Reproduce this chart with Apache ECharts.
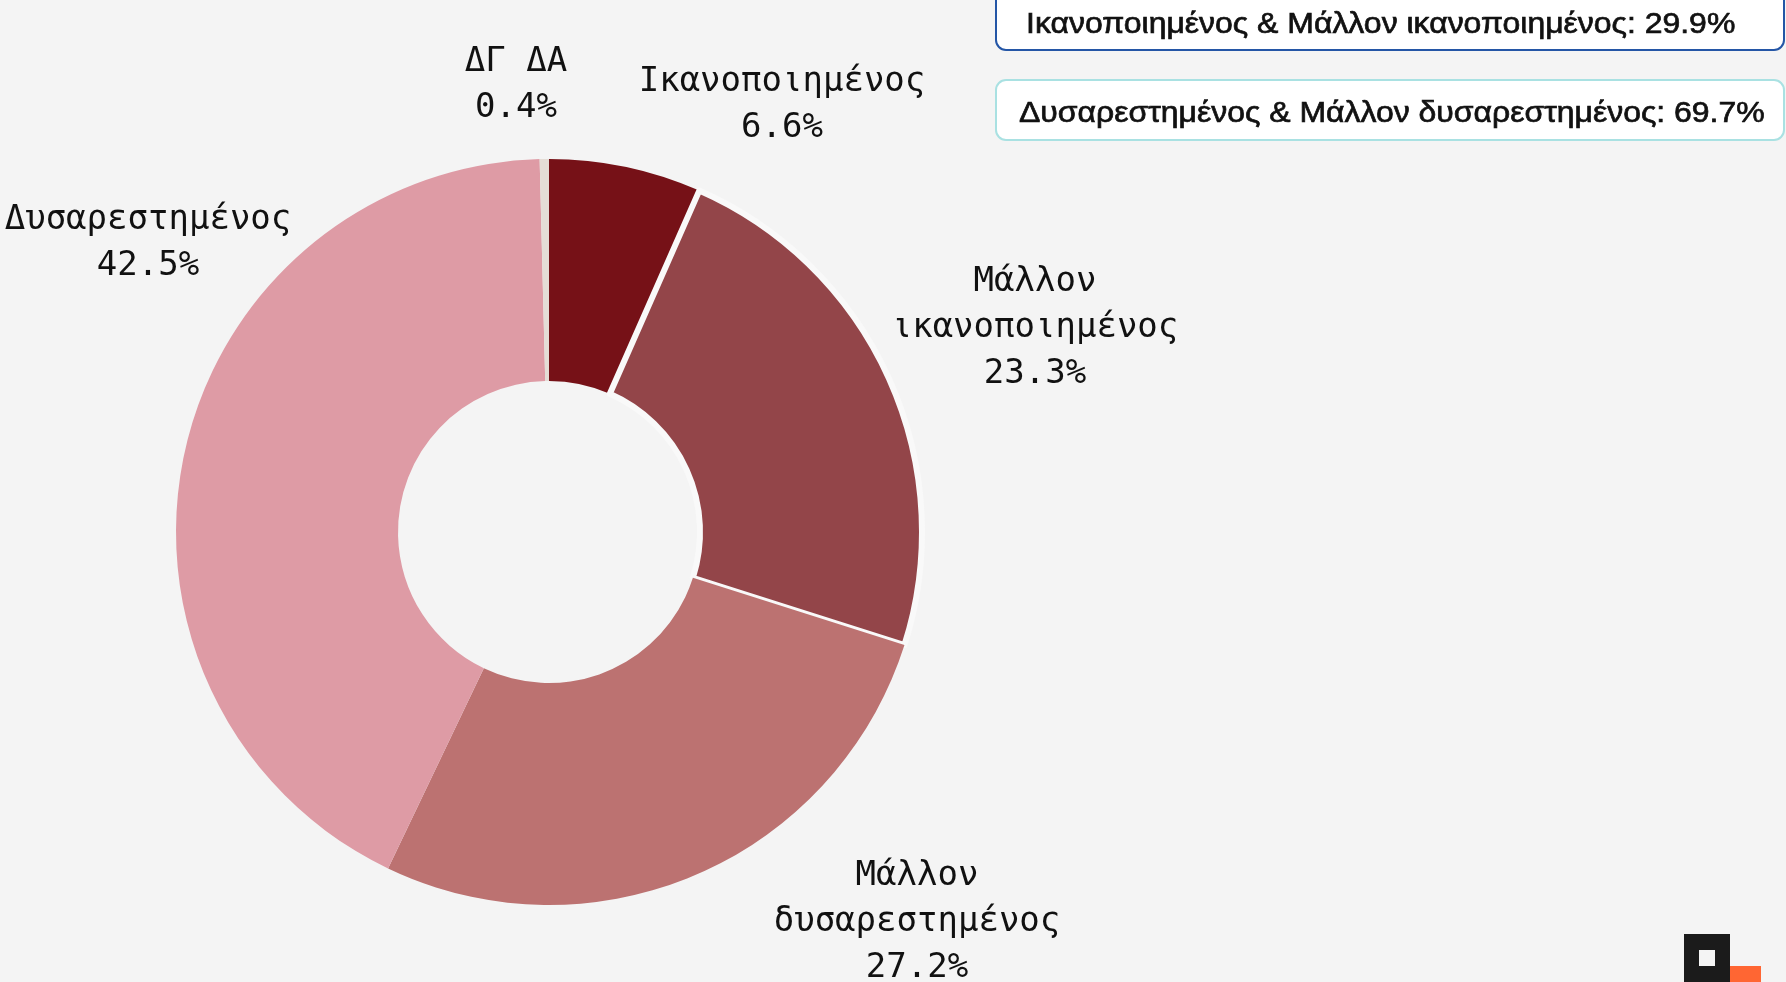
<!doctype html>
<html lang="el">
<head>
    <meta charset="UTF-8">
    <title>Ικανοποίηση</title>
    <script src="https://cdn.jsdelivr.net/npm/echarts@6/dist/echarts.min.js"></script>
    <style>
        html, body { margin: 0; padding: 0; background: #f4f4f4; }
        #main { width: 1786px; height: 982px; }
    </style>
</head>
<body>
<div id="main"></div>
<script type="text/javascript">
    // δεδομένα
    var categories = ['Ικανοποιημένος', 'Μάλλον ικανοποιημένος', 'Μάλλον δυσαρεστημένος', 'Δυσαρεστημένος', 'ΔΓ ΔΑ'];
    var values = [6.6, 23.3, 27.2, 42.5, 0.4];
    var summaryLabels = ['Ικανοποιημένος & Μάλλον ικανοποιημένος', 'Δυσαρεστημένος & Μάλλον δυσαρεστημένος'];
    var summaryValues = [29.9, 69.7];

    var colors = ['#761117', '#934549', '#bc7271', '#de9ba5', '#e4ddd6'];

    // θέση κέντρου πίτας και μετατόπιση ετικετών από αυτό
    var cx = 549, cy = 532;
    var labelOffsets = [[233, -427], [486, -204], [368, 390], [-401, -289], [-33, -447]];

    var myChart = echarts.init(document.getElementById('main'));

    var pieData = categories.map(function (name, i) {
        var item = { name: name, value: values[i], itemStyle: { color: colors[i] } };
        if (i === 1) {
            // κενό γύρω από τη φέτα, όπως στο πρωτότυπο
            item.itemStyle.borderColor = '#f9f9f9';
            item.itemStyle.borderWidth = 6;
        }
        return item;
    });

    var summaryFont = 'normal 30px "Liberation Sans"';
    var boxes = [
        { y: -12, h: 62, stroke: '#2456a6', tx: 1026, ty: 25 },
        { y: 80, h: 60, stroke: '#a9e1e2', tx: 1019, ty: 114 }
    ];
    var graphics = [];
    summaryLabels.forEach(function (lbl, i) {
        var b = boxes[i];
        graphics.push({
            type: 'rect',
            shape: { x: 996, y: b.y, width: 788, height: b.h, r: 10 },
            style: { fill: '#ffffff', stroke: b.stroke, lineWidth: 2 },
            z: 10
        });
        graphics.push({
            type: 'text',
            x: b.tx,
            y: b.ty,
            scaleX: 1.065,
            style: {
                text: lbl + ': ' + summaryValues[i].toFixed(1) + '%',
                font: summaryFont,
                fill: '#111111',
                stroke: '#111111',
                lineWidth: 0.7,
                textVerticalAlign: 'middle',
                verticalAlign: 'middle'
            },
            z: 11
        });
    });
    // λογότυπο κάτω δεξιά
    graphics.push({ type: 'rect', shape: { x: 1684, y: 934, width: 46, height: 48 }, style: { fill: '#1b1b1b' }, z: 10 });
    graphics.push({ type: 'rect', shape: { x: 1699, y: 950, width: 16, height: 16 }, style: { fill: '#f4f4f4' }, z: 11 });
    graphics.push({ type: 'rect', shape: { x: 1730, y: 966, width: 31, height: 16 }, style: { fill: '#ff6633' }, z: 10 });

    var option = {
        backgroundColor: '#f4f4f4',
        animation: false,
        graphic: graphics,
        series: [{
            type: 'pie',
            center: [cx, cy],
            radius: [151, 373],
            startAngle: 90,
            clockwise: true,
            data: pieData,
            emphasis: { disabled: true },
            labelLine: { show: false },
            label: {
                show: true,
                position: 'outside',
                fontFamily: 'DejaVu Sans Mono',
                fontSize: 34,
                lineHeight: 46,
                width: 340,
                overflow: 'none',
                color: '#111111',
                formatter: function (p) {
                    return p.name.replace('Μάλλον ', 'Μάλλον\n') + '\n' + p.value.toFixed(1) + '%';
                }
            },
            labelLayout: function (params) {
                var o = labelOffsets[params.dataIndex];
                return { x: cx + o[0], y: cy + o[1], align: 'center', verticalAlign: 'middle' };
            }
        }]
    };

    myChart.setOption(option);
</script>
</body>
</html>
